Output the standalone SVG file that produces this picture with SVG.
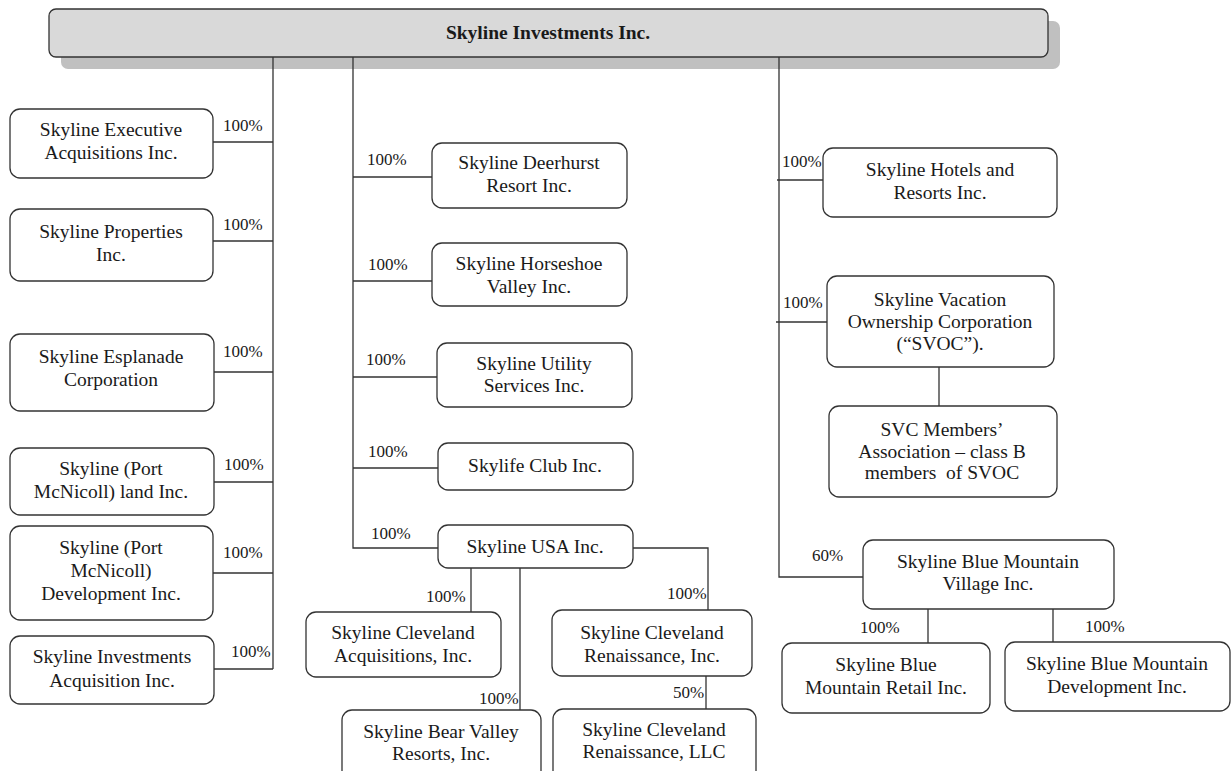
<svg xmlns="http://www.w3.org/2000/svg" width="1231" height="771" viewBox="0 0 1231 771">
<style>
.box{fill:#fff;stroke:#333;stroke-width:1.3}
.t{font-family:"Liberation Serif","Times New Roman",serif;font-size:19.5px;fill:#1a1a1a;text-anchor:middle}
.p{font-family:"Liberation Serif","Times New Roman",serif;font-size:17px;fill:#1a1a1a}
.ln{fill:none;stroke:#333;stroke-width:1.3}
</style>
<rect width="1231" height="771" fill="#fff"/>
<g id="n-root">
<rect x="61" y="21" width="999" height="48" rx="7" fill="#c0c0c0"/>
<rect x="49" y="9" width="999" height="48" rx="7" fill="#d9d9d9" stroke="#333" stroke-width="1.3"/>
<text x="548" y="39" class="t" font-weight="bold">Skyline Investments Inc.</text>
</g>
<g id="connectors" class="ln">
<path d="M273 57V669M213 142H273M213 241H273M214 372H273M214 482H273M213 573H273M214 669H273"/>
<path d="M353 57V548H438M353 177H432M353 281H432M353 377H437M353 468H438"/>
<path d="M471 568V612M520 568V710M633 548H708V610M706 676V709"/>
<path d="M779 57V577H863M777 180H823M776 322H827M939 367V406M928 609V643M1053 609V642"/>
</g>
<g id="labels" class="p">
<text x="223" y="131">100%</text>
<text x="223" y="230">100%</text>
<text x="223" y="357">100%</text>
<text x="224" y="470">100%</text>
<text x="223" y="558">100%</text>
<text x="231" y="657">100%</text>
<text x="367" y="165">100%</text>
<text x="368" y="270">100%</text>
<text x="366" y="365">100%</text>
<text x="368" y="457">100%</text>
<text x="371" y="539">100%</text>
<text x="426" y="602">100%</text>
<text x="479" y="704">100%</text>
<text x="667" y="599">100%</text>
<text x="673" y="698">50%</text>
<text x="782" y="167">100%</text>
<text x="783" y="308">100%</text>
<text x="812" y="561">60%</text>
<text x="860" y="633">100%</text>
<text x="1085" y="632">100%</text>
</g>
<g id="n-exec"><rect class="box" x="10" y="109" width="203" height="69" rx="10"/><text class="t" x="111" y="136">Skyline Executive</text><text class="t" x="111" y="159">Acquisitions Inc.</text></g>
<g id="n-prop"><rect class="box" x="10" y="209" width="203" height="72" rx="10"/><text class="t" x="111" y="238">Skyline Properties</text><text class="t" x="111" y="261">Inc.</text></g>
<g id="n-espl"><rect class="box" x="10" y="334" width="204" height="77" rx="10"/><text class="t" x="111" y="363">Skyline Esplanade</text><text class="t" x="111" y="386">Corporation</text></g>
<g id="n-pml"><rect class="box" x="10" y="448" width="204" height="67" rx="10"/><text class="t" x="111" y="475">Skyline (Port</text><text class="t" x="111" y="498">McNicoll) land Inc.</text></g>
<g id="n-pmd"><rect class="box" x="10" y="526" width="203" height="94" rx="10"/><text class="t" x="111" y="554">Skyline (Port</text><text class="t" x="111" y="577">McNicoll)</text><text class="t" x="111" y="600">Development Inc.</text></g>
<g id="n-inva"><rect class="box" x="10" y="636" width="204" height="68" rx="10"/><text class="t" x="112" y="663">Skyline Investments</text><text class="t" x="112" y="687">Acquisition Inc.</text></g>
<g id="n-deer"><rect class="box" x="432" y="143" width="195" height="65" rx="10"/><text class="t" x="529" y="169">Skyline Deerhurst</text><text class="t" x="529" y="192">Resort Inc.</text></g>
<g id="n-horse"><rect class="box" x="432" y="243" width="195" height="63" rx="10"/><text class="t" x="529" y="270">Skyline Horseshoe</text><text class="t" x="529" y="293">Valley Inc.</text></g>
<g id="n-util"><rect class="box" x="437" y="343" width="195" height="64" rx="10"/><text class="t" x="534" y="370">Skyline Utility</text><text class="t" x="534" y="392">Services Inc.</text></g>
<g id="n-skylife"><rect class="box" x="438" y="443" width="195" height="47" rx="10"/><text class="t" x="535" y="472">Skylife Club Inc.</text></g>
<g id="n-usa"><rect class="box" x="438" y="525" width="195" height="43" rx="10"/><text class="t" x="535" y="553">Skyline USA Inc.</text></g>
<g id="n-cleva"><rect class="box" x="306" y="612" width="195" height="65" rx="10"/><text class="t" x="403" y="639">Skyline Cleveland</text><text class="t" x="403" y="662">Acquisitions, Inc.</text></g>
<g id="n-bear"><rect class="box" x="342" y="710" width="199" height="80" rx="10"/><text class="t" x="441" y="738">Skyline Bear Valley</text><text class="t" x="441" y="760">Resorts, Inc.</text></g>
<g id="n-clevr"><rect class="box" x="552" y="610" width="200" height="66" rx="10"/><text class="t" x="652" y="639">Skyline Cleveland</text><text class="t" x="652" y="662">Renaissance, Inc.</text></g>
<g id="n-llc"><rect class="box" x="553" y="709" width="203" height="80" rx="10"/><text class="t" x="654" y="736">Skyline Cleveland</text><text class="t" x="654" y="758">Renaissance, LLC</text></g>
<g id="n-hotels"><rect class="box" x="823" y="148" width="234" height="69" rx="10"/><text class="t" x="940" y="176">Skyline Hotels and</text><text class="t" x="940" y="199">Resorts Inc.</text></g>
<g id="n-svoc"><rect class="box" x="827" y="276" width="227" height="91" rx="10"/><text class="t" x="940" y="306">Skyline Vacation</text><text class="t" x="940" y="328">Ownership Corporation</text><text class="t" x="940" y="350">(“SVOC”).</text></g>
<g id="n-svc"><rect class="box" x="829" y="406" width="228" height="91" rx="10"/><text class="t" x="942" y="436">SVC Members’</text><text class="t" x="942" y="458">Association – class B</text><text class="t" x="942" y="479" xml:space="preserve">members  of SVOC</text></g>
<g id="n-bmv"><rect class="box" x="863" y="540" width="251" height="69" rx="10"/><text class="t" x="988" y="568">Skyline Blue Mountain</text><text class="t" x="988" y="590">Village Inc.</text></g>
<g id="n-retail"><rect class="box" x="782" y="643" width="208" height="70" rx="10"/><text class="t" x="886" y="671">Skyline Blue</text><text class="t" x="886" y="694">Mountain Retail Inc.</text></g>
<g id="n-dev"><rect class="box" x="1005" y="642" width="225" height="69" rx="10"/><text class="t" x="1117" y="670">Skyline Blue Mountain</text><text class="t" x="1117" y="693">Development Inc.</text></g>
</svg>
